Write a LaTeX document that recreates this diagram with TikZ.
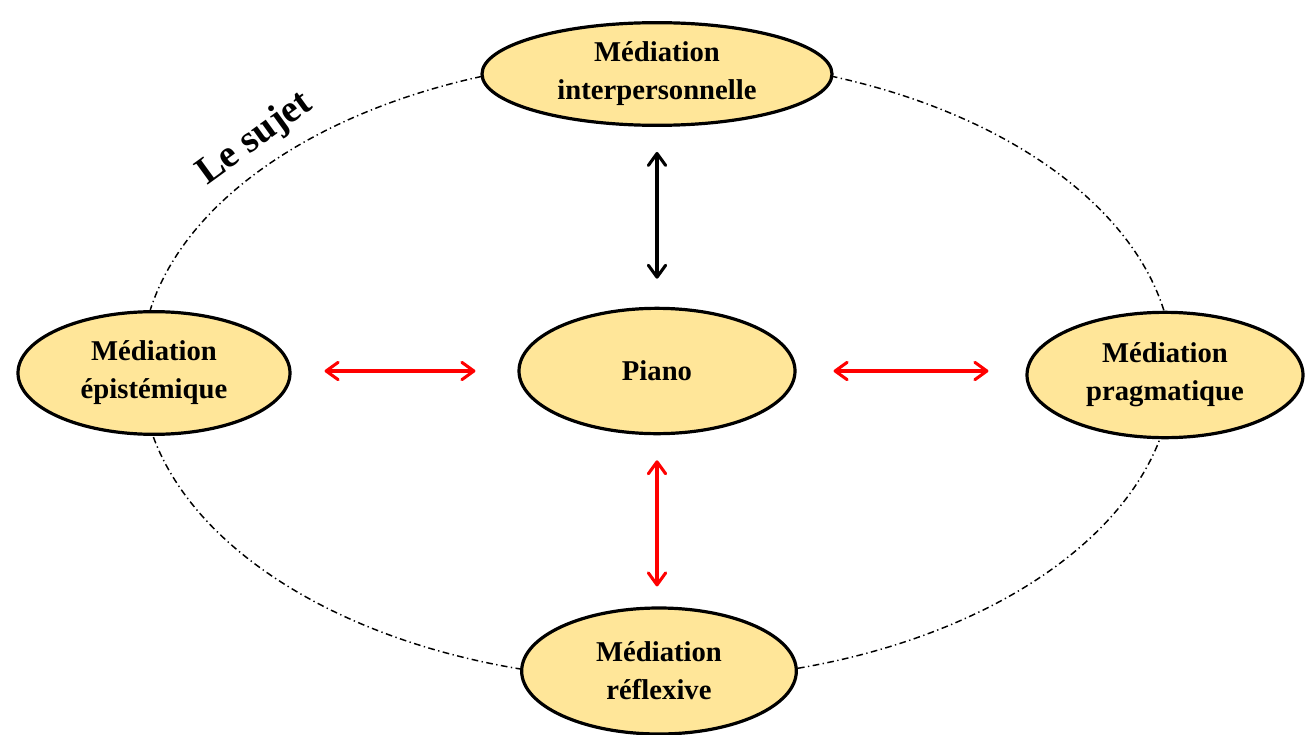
\documentclass[tikz,border=0pt]{standalone}
\usepackage{fontspec}
\setmainfont{Liberation Serif}
\usetikzlibrary{shapes.geometric,arrows.meta}
\definecolor{nodefill}{HTML}{FFE699}
\definecolor{arrowred}{HTML}{FF0000}
\tikzset{
  med/.style={ellipse, draw=black, line width=2.4pt, fill=nodefill, inner sep=0pt,
    align=center, font=\bfseries\fontsize{21.5}{28.5}\selectfont},
  dashdotline/.style={line width=1.1pt, dash pattern=on 5pt off 2.6pt on 1pt off 2.6pt},
  dbl/.style={line width=2.3pt, {Straight Barb[round,length=9pt,width=13pt]}-{Straight Barb[round,length=9pt,width=13pt]}},
  blk/.style={dbl, draw=black},
  redarrow/.style={dbl, draw=arrowred},
}
\begin{document}
\begin{tikzpicture}[x=0.75pt,y=-0.75pt]
\useasboundingbox (0,0) rectangle (1306,735);
% the subject: large dash-dot ellipse
\draw[dashdotline] (657,369) ellipse [x radius=387pt, y radius=233.25pt];

\node[med, minimum width=262.5pt, minimum height=77pt] (top) at (657,74) {Médiation\\interpersonnelle};
\node[med, minimum width=204pt, minimum height=92pt] (left) at (154,373) {Médiation\\épistémique};
\node[med, minimum width=207pt, minimum height=94pt] (piano) at (657,371) {Piano};
\node[med, minimum width=207pt, minimum height=94pt] (right) at (1165,375) {Médiation\\pragmatique};
\node[med, minimum width=206pt, minimum height=94.5pt] (bottom) at (659,671) {Médiation\\réflexive};

\draw[blk, shorten <=18.75pt, shorten >=21pt] (top.south) -- (piano.north);
\draw[redarrow, shorten <=18.75pt, shorten >=15pt] (piano.south) -- (piano.south |- bottom.north);
\draw[redarrow, shorten <=24.75pt, shorten >=31.5pt] (left.east |- piano.center) -- (piano.west);
\draw[redarrow, shorten <=27.75pt, shorten >=27.75pt] (piano.east) -- (piano.east -| right.west);

\node[rotate=36, font=\bfseries\fontsize{29}{33}\selectfont] (sujet) at (255,139) {Le sujet};
\end{tikzpicture}
\end{document}
